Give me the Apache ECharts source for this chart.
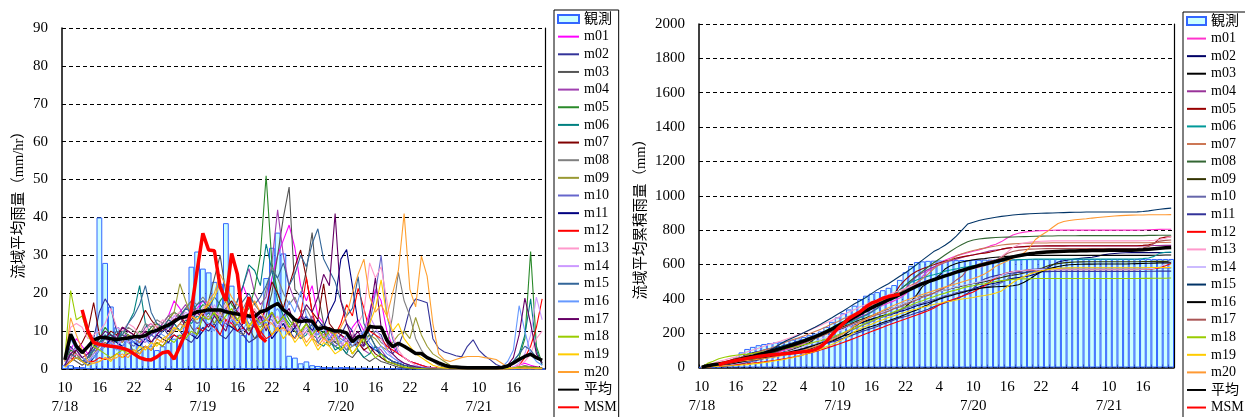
<!DOCTYPE html>
<html><head><meta charset="utf-8">
<script src="https://cdn.jsdelivr.net/npm/echarts@6/dist/echarts.min.js"></script>
<style>html,body{margin:0;padding:0;background:#fff;}#wrap{position:relative;width:1245px;height:417px;}#left{position:absolute;left:0;top:0;width:622px;height:417px;}#right{position:absolute;left:622px;top:0;width:623px;height:417px;}</style>
</head><body><div id="wrap"><div id="left"></div><div id="right"></div></div>
<script>
// ---- time axis ----
const startDay = 18, startHour = 10, nHours = 84;
const tickLabels = ['10\n7/18','16','22','4','10\n7/19','16','22','4','10\n7/20','16','22','4','10\n7/21','16'];
const memberNames = ['m01','m02','m03','m04','m05','m06','m07','m08','m09','m10','m11','m12','m13','m14','m15','m16','m17','m18','m19','m20'];

// ---- hourly basin-average rainfall (mm/hr) ----
const obsRain = [1,1,0.5,0.5,2,5,40,28,16.5,11,9,9, 8,7,6,6,5,6,7,8,9,11,27,31, 26.5,25.5,23,22.5,38.5,22,13,9,11,14,12,24, 32,36,30.5,3.5,3,1.5,2,1,0.8,0.5,0.5,0.4, 0.5,0.5,0.4,0.3,0.4,0.3,0.2,0.3,0.2,0.2,0.1,0.1, 0.1,0.1,0,0,0,0,0,0,0,0,0,0, 0,0,0,0,0,0,0,0,0,0,0,0];
const avgRain = [2.4,9.2,6,4.3,5.9,7.6,8.3,8.3,8,7.8,8,8.2, 8.5,8.5,8.8,9.8,10.2,11,11.6,12.5,13.5,13.8,14.5,15.1, 15.3,15.6,15.6,15.6,15.1,14.8,14.5,14.2,14,13.8,15.1,15.5, 16.5,17.3,15.6,14.5,13,12.5,12.8,12.6,10.5,11,10.5,10, 10,9.5,7.2,8.5,8.5,11.2,11,11,7.6,5.9,6.8,6, 5.1,4.1,4.1,3,2.3,1.6,1,0.6,0.5,0.4,0.3,0.3, 0.3,0.3,0.3,0.3,0.4,0.8,1.6,2.5,3.3,3.9,3,2.3];
const msmRain = [null,null,null,15.6,10,7,6.5,6.2,6,5.8,5.5,5, 4,3,2.5,2.4,3.2,4.3,4.6,2.6,6,9.5,15.6,26, 35.8,31.4,31.2,21.7,18,30.5,25,12,19,12,8.5,7.2];
const m01Rain = [1,5,8,6,4,5,6,7,6,8,7,9, 8,7,8,9,10,12,14,18,16,13,15,16, 18,17,15,14,13,12,15,22,18,14,12,16, 24,30,34,38,32,22,18,22,14,12,10,8, 9,7,11,13,10,15,21,18,10,6,4,3, 2,1.5,1,0.5,0.3,0.2,0.1,0,0,0,0,0, 0,0,0,0,0,0.2,0.5,1,1.5,1,0.6,0.3];
const m02Rain = [2,6,4,2,3,8,15,18.5,16,10,8,9, 7,6,8,9,10,11,9,12,10,8,7,9, 11,10,12,9,8,10,12,9,7,8,10,12, 9,11,13,10,8,12,14,10,9,11,8,7, 9,12,10,7,6,8,10,9,5,4,6,10, 16,18.5,18,17.5,8,5.5,4.5,4,3.5,3.2,6,7.7, 5,3.5,2.4,1.2,0.6,0.3,0.2,0.1,0.1,0.1,0.1,0.1];
const m03Rain = [1,3,2,1,2,4,5,6,7,8,9,8, 4,5,6,5,7,6,8,10,12,14,11,9, 14,18,24,30,20,13,10,9,11,8,9,14, 20,30,40,48,21,19,26,36,20,12,9,7, 6,4,3,5,3,2,3,2,1.5,1,0.5,0.3, 0.3,0.2,0.1,0,0,0,0,0,0,0,0,0, 0,0,0,0,0,0,0.1,0.3,0.5,0.4,0.3,0.2];
const m04Rain = [1,4,6,5,3,4,6,8,7,9,8,10, 9,8,11,12,10,12,14,13,15,17,14,16, 15,13,16,14,12,15,18,22,26.5,20,17,19, 28,42,30,22,18,15,12,14,10,9,11,8, 7,6,9,8,5,4,6,5,3,2,1.5,1, 0.8,0.5,0.3,0.2,0.1,0,0,0,0,0,0,0, 0,0,0,0,0,0.1,0.3,0.6,0.8,0.6,0.4,0.2];
const m05Rain = [2,5,4,3,2,5,8,11,9,8,10,9, 8,10,9,11,12,10,13,15,14,16,18,15, 17,16,14,18,20,17,15,14,16,21,30,51, 28,20,16,13,11,10,12,9,8,10,7,6, 5,7,4,6,8,9,6,4,3,2,1.5,1, 0.8,0.5,0.3,0.2,0.1,0.1,0,0,0,0,0,0, 0,0,0,0,0.2,0.5,1.5,3,8,31,6,1.5];
const m06Rain = [1,4,3,2,3,6,7,8,9,7,10,12, 15,22,12,9,8,10,11,12,10,13,12,14, 13,15,12,14,16,13,18,22,27.5,26,22,33, 26,18,14,12,10,8,9,12,7,6,8,5, 6,4,8,5,3,4,6,3,2,1.5,1,0.5, 0.3,0.2,0.1,0,0,0,0,0,0,0,0,0, 0,0,0,0,0.3,1,2,4,9,18.5,5,1];
const m07Rain = [1,3,5,7,10,17.5,9,8,10,9,11,10, 9,12,15.5,13,11,10,12,13,14,12,15,16, 14,17,15,13,16,18,15,14,17,15,13,16, 23,20,16,22,27,31.4,24,15,13,22.5,12,10, 9,8,6,7,5,6,4,3,2,1.5,1,0.5, 0.3,0.2,0.1,0,0,0,0,0,0,0,0,0, 0,0,0,0,0,0.1,0.3,0.5,0.8,0.6,0.5,0.3];
const m08Rain = [1,4,3,2,3,5,7,9,8,10,9,11, 10,9,12,11,13,12,14,15,13,16,18,17, 19,17,16,15,18,14,13,16,19,17,15,21, 27,24,20,17,19,15,16,13,11,12,10,9, 8,7,9,6,10,12,9,7,6,14,25.5,18, 14,8,5,3,2,1,0.5,0.3,0.2,0.1,0,0, 0,0,0,0,0,0.1,0.3,0.5,0.8,0.6,0.4,0.3];
const m09Rain = [1,3,4,2,2,4,6,7,6,8,7,9, 8,7,9,10,12,11,13,15,22.5,18,14,12, 13,14,12,15,13,11,12,14,10,12,11,13, 15,12,14,11,10,9,12,8,7,9,6,8, 7,5,6,8,7,9,8,6,5,7,9,10, 8,13.6,9,6,4,3,2,1,0.5,0.3,0.2,0.1, 0,0,0,0,0,0.1,0.3,0.5,0.6,0.4,0.3,0.2];
const m10Rain = [1,2,3,2,2,4,5,6,7,6,8,7, 6,8,7,9,8,10,11,10,12,11,13,12, 13,15,14,12,16,14,13,15,12,11,14,13, 13,10,12,9,11,8,10,12,7,9,8,6, 7,5,8,6,9,12,20,30,14,8,4,3, 2,1.5,1,0.5,0.3,0.2,0.1,0,0,0,0,0, 0,0,0,0,0,0,0.1,0.2,0.3,0.2,0.1,0.1];
const m11Rain = [1,2,3,2,1,3,5,6,8,7,6,8, 7,6,8,7,9,8,7,9,8,10,9,8, 10,12,11,13,12,11,10,12,14,11,13,12, 8,10,12,9,11,14,12,10,13,11,15,18, 29,31.5,22,12,8,6,5,4,3,2,1.5,1, 0.8,0.5,0.3,0.2,0.1,0,0,0,0,0,0,0, 0,0,0,0,0,0.1,0.2,0.4,0.5,0.4,0.2,0.1];
const m12Rain = [0.5,2,4,3,2,2,3,2.5,3,4,3,4, 5,4,6,5,7,6,8,9,8,10,9,11, 10,12,11,9,13,12,10,11,9,12,10,8, 9,11,13,10,12,14,24.2,15,10,8,11,9, 12,17,14,21.3,16,10,9,8,6,5,4,3, 2,1.5,1,0.5,0.3,0.2,0.1,0,0,0,0,0, 0,0,0,0,0,0,0.3,1,3,6,11,18.5];
const m13Rain = [2,11,12,11,8,9,10,12,16,11,10,12, 11,9,10,12,11,13,12,14,15,13,16,14, 16,18,15,14,17,13,15,12,14,16,13,11, 12,14,10,11,13,9,10,8,11,7,9,8, 7,6,9,12,15,28,24,27,18,9,5,3, 2,1,0.5,0.3,0.2,0.1,0,0,0,0,0,0, 0,0,0,0,0,0.2,0.5,1,2,4,8,10];
const m14Rain = [1,3,4,3,2,4,5,6,7,6,8,7, 8,9,7,10,9,11,12,14,13,15,14,16, 15,13,17,14,12,15,16,13,14,12,15,13, 14,11,13,10,12,9,11,10,8,9,7,8, 6,8,7,9,10,14,11,8,5,3,2,1.5, 1,0.5,0.3,0.2,0.1,0,0,0,0,0,0,0, 0,0,0,0,0,0.1,0.5,1.5,4,9,19,13];
const m15Rain = [1,4,3,2,3,5,7,9,8,10,9,12, 14,17,22,15,12,11,13,12,14,16,15,17, 18,16,19,17,15,14,16,18,20,17,19,22, 26,24,28,22,25,30,27,33,37,29,26,23, 18,14,16,24.4,12,9,6,4,3,2,1.5,1, 0.8,0.5,0.3,0.2,0.1,0,0,0,0,0,0,0, 0,0,0,0,0.2,0.5,2,4,6,5,3,2];
const m16Rain = [1,8,5,3,2,3,5,6,7,5,6,8, 7,9,8,6,10,9,8,11,10,12,9,11, 13,12,10,14,11,13,12,10,14,11,13,12, 14,16,13,18,15,20.5,14,12,9,11,8,10, 7,9,6,8,10,7,5,6,4,3,2,1.5, 1,0.8,0.5,0.3,0.2,0.1,0,0,0,0,0,0, 0,0,0,0,0.5,2,5,16.7,10,4,2,1];
const m17Rain = [1,4,5,3,4,6,8,10,9,8,11,10, 9,8,10,7,9,11,10,12,14,11,13,15, 13,11,14,12,10,15,13,11,9,12,14,10, 15,12,14,16,11,13,17,15,19,25,22,41, 18,12,8,10,6,14,24,11,7,4,2.5,1.5, 1,0.6,0.3,0.2,0.1,0,0,0,0,0,0,0, 0,0,0,0,0.2,1,3,9,18.7,12,4,1.5];
const m18Rain = [3,20.7,13,14,9,6,5,4,3,4,5,4, 5,4,6,5,7,6,8,7,9,8,10,9, 14,13,15,12,14,16,13,15,11,14,12,13, 15,12,14,11,13,10,12,9,11,8,10,9, 5,7,4,6,8,5,3,4,2,1.5,1,0.5, 0.3,0.2,0.1,0,0,0,0,0,0,0,0,0, 0,0,0,0,0,0.1,0.3,0.5,0.6,0.4,0.3,0.2];
const m19Rain = [0.5,2,3,2,1,1.5,2,3,2,4,3,5, 4,6,5,7,6,8,9,11,10,12,14,13, 15,17,19,22.6,18,14,12,15,11,13,10,12, 9,11,8,10,7,9,6,8,5,7,6,4, 5,7,4,6,9,12,16,23.5,14,10,12,8, 6,4,3,2,1,0.5,0.3,0.2,0.1,0,0,0, 0,0,0,0,0,0,0.1,0.2,0.3,0.2,0.1,0.1];
const m20Rain = [2,13.5,9,5,2,1.5,2,3,2.5,3,4,3, 5,4,6,5,8,7,9,10,12,11,14,13, 15,18,20,25,22,19,17,16,14,18,15,13, 12,10,11,9,8,10,7,9,6,8,7,9, 11,14,20,25,29,19,15,17,14,20,26,41, 21,16.4,29.8,24.5,12,4,2.4,2,2.5,3,3.3,3.3, 3.3,3,2.8,2.5,1.5,0.5,0.2,0.1,0,0,0,0];

// ---- cumulative basin-average rainfall (mm) ----
const obsCum = [2,3,4,5,7,14,58,88,108,120,130,137, 142,146,150,156,162,170,178,188,198,210,236,266, 292,316,338,360,398,418,430,439,450,464,480,510, 555,592,614,618,621,622,623,624,625,625,626,626, 627,627,628,628,629,629,630,630,630,631,631,631, 631,631,632,632,632,632,632,632,632,632,632,632, 632,632,632,632,632,632,632,632,632,632,632,632];
const avgCum = [2,10,16,21,27,34,42,50,58,66,75,84, 93,102,111,121,131,142,154,166,179,193,208,224, 241,258,276,294,312,330,347,363,378,393,408,424, 441,458,474,488,500,511,522,533,544,555,565,575, 584,593,601,609,617,626,635,644,651,657,662,666, 669,672,674,676,677,678,679,680,680,681,681,681, 682,682,682,682,683,684,686,689,692,695,697,699];
const msmCum = [null,null,null,16,27,34,41,47,53,59,64,69, 73,76,79,81,84,88,92,95,104,120,150,190, 225,255,285,305,325,352,375,387,403,413,420,427];
const m01Cum = [1,6,14,20,24,29,35,42,48,56,63,72, 80,87,95,104,114,126,140,158,174,187,202,218, 236,253,268,282,295,307,322,344,362,376,388,404, 428,458,492,530,562,584,602,624,638,650,660,668, 677,684,695,708,718,733,754,772,782,788,792,795, 797,798,799,800,800,800,800,800,800,800,800,800, 800,800,800,800,800,800,801,802,803,804,805,805];
const m02Cum = [2,8,12,14,17,25,40,59,75,85,93,102, 109,115,123,132,142,153,162,174,184,192,199,208, 219,229,241,250,258,268,280,289,296,304,314,326, 335,346,359,369,377,389,403,413,422,433,441,448, 457,469,479,486,492,500,510,519,524,528,534,544, 560,578,596,614,622,627,632,636,639,642,648,656, 661,664,667,668,669,669,669,669,669,669,670,670];
const m03Cum = [1,4,6,7,9,13,18,24,31,39,48,56, 60,65,71,76,83,89,97,107,119,133,144,153, 167,185,209,239,259,272,282,291,302,310,319,333, 353,383,423,471,492,511,537,573,593,605,614,621, 627,631,634,639,642,644,647,649,651,652,652,652, 653,653,653,653,653,653,653,653,653,653,653,653, 653,653,653,653,653,653,653,653,654,654,655,655];
const m04Cum = [1,5,11,16,19,23,29,37,44,53,61,71, 80,88,99,111,121,133,147,160,175,192,206,222, 237,250,266,280,292,307,325,347,374,394,411,430, 458,500,530,552,570,585,597,611,621,630,641,649, 656,662,671,679,684,688,694,699,702,704,705,706, 707,707,708,708,708,708,708,708,708,708,708,708, 708,708,708,708,708,708,708,709,710,710,711,711];
const m05Cum = [2,7,11,14,16,21,29,40,49,57,67,76, 84,94,103,114,126,136,149,164,178,194,212,227, 244,260,274,292,312,329,344,358,374,395,425,476, 512,540,560,575,587,598,610,619,627,637,644,650, 655,662,666,672,680,689,695,699,702,704,706,707, 707,708,708,708,708,709,709,709,709,709,709,709, 709,709,709,709,709,709,711,714,722,753,759,761];
const m06Cum = [1,5,8,10,13,19,26,34,43,50,60,72, 87,109,121,130,138,148,159,171,181,194,206,220, 233,248,260,274,290,303,321,343,371,397,419,452, 478,496,510,522,532,540,549,561,568,574,582,587, 593,597,605,610,613,617,623,626,628,629,630,631, 631,631,631,631,631,631,631,631,631,631,631,631, 631,631,631,631,631,632,634,638,647,666,671,672];
const m07Cum = [1,4,9,16,26,44,53,61,71,80,91,101, 110,122,137,150,161,171,183,196,210,222,237,253, 267,284,299,312,328,346,361,375,392,407,420,436, 459,479,495,517,544,575,599,614,627,650,662,672, 681,689,695,702,707,713,717,720,722,723,724,725, 725,725,726,726,726,726,726,726,726,726,726,726, 726,726,726,726,726,726,726,726,727,728,728,729];
const m08Cum = [1,5,8,10,13,18,25,34,42,52,61,72, 82,91,103,114,127,139,153,168,181,197,215,232, 251,268,284,299,317,331,346,364,385,406,428,452, 480,508,535,560,585,610,632,655,677,698,716,732, 742,748,752,755,757,758,759,760,761,762,763,764, 765,766,766,767,767,767,767,768,768,768,768,768, 768,768,768,768,768,768,768,769,769,770,770,770];
const m09Cum = [1,4,8,10,12,16,22,29,35,43,50,59, 67,74,83,93,105,116,129,144,167,185,199,211, 224,238,250,265,278,289,301,315,325,337,348,361, 376,388,402,413,423,432,444,452,459,468,474,482, 489,494,500,508,515,524,532,538,543,550,559,569, 577,590,599,605,609,612,614,615,616,616,616,616, 616,616,616,616,616,616,617,617,618,618,618,619];
const m10Cum = [1,3,6,8,10,14,19,25,32,38,46,53, 59,67,74,83,91,101,112,122,134,145,158,170, 183,198,212,224,240,254,267,282,294,305,319,332, 345,355,367,376,387,395,405,417,424,433,441,447, 454,459,467,473,482,494,514,544,558,566,570,573, 575,577,578,578,578,579,579,579,579,579,579,579, 579,579,579,579,579,579,579,579,579,579,580,580];
const m11Cum = [1,3,6,8,9,12,17,23,31,38,44,52, 59,65,73,80,89,97,104,113,121,131,140,148, 158,170,181,194,206,217,227,239,253,264,277,289, 297,307,319,328,339,353,365,375,388,399,414,432, 461,493,515,527,535,541,546,550,553,555,556,557, 558,558,559,559,559,559,559,559,559,559,559,559, 559,559,559,559,559,559,559,560,560,561,561,561];
const m12Cum = [0,2,6,9,11,13,16,19,22,26,29,33, 38,42,48,53,60,66,74,83,92,102,112,123, 134,146,158,170,183,196,209,222,234,247,259,271, 282,294,306,318,331,345,365,380,392,403,415,426, 440,458,476,500,522,540,552,558,562,565,567,568, 569,569,570,570,570,570,570,570,570,570,570,570, 570,570,570,570,570,570,571,572,575,581,592,606];
const m13Cum = [2,13,25,36,44,53,63,75,91,102,112,124, 135,144,154,166,177,190,202,216,231,244,260,274, 290,308,323,337,354,367,382,394,408,424,437,448, 460,474,484,495,508,517,527,535,546,553,562,570, 577,583,592,604,619,647,671,698,716,725,730,733, 735,736,737,737,737,737,737,737,737,737,737,737, 737,737,737,737,737,737,738,739,741,745,753,763];
const m14Cum = [1,4,8,11,13,17,22,28,35,41,49,56, 64,73,80,90,99,110,122,136,149,164,178,194, 209,222,239,253,265,280,296,309,323,335,350,363, 377,388,401,411,423,432,443,453,461,470,477,485, 491,499,506,515,525,539,550,558,563,566,568,570, 571,571,571,572,572,572,572,572,572,572,572,572, 572,572,572,572,572,572,572,574,578,587,606,619];
const m15Cum = [1,5,9,12,16,22,30,40,50,61,72,85, 100,118,140,157,172,187,202,218,234,252,271,290, 310,329,350,371,389,408,430,452,470,488,509,531, 552,575,600,625,650,675,692,712,735,765,800,835, 846,856,863,869,875,880,884,888,891,893,895,897, 898,899,900,901,902,903,904,904,905,905,905,905, 905,905,905,905,905,906,908,912,917,921,925,928];
const m16Cum = [1,8,13,16,18,21,26,32,38,43,49,56, 63,71,79,85,94,102,110,120,130,141,150,160, 172,183,193,206,216,228,239,249,262,272,284,295, 308,323,335,352,366,385,398,409,418,428,436,445, 452,460,465,468,470,472,474,476,482,496,515,538, 556,570,580,588,594,598,600,601,602,602,603,603, 603,603,603,603,604,605,606,607,608,609,609,610];
const m17Cum = [1,5,10,13,17,23,31,41,50,58,69,79, 88,96,106,113,122,133,143,155,169,180,193,208, 221,232,246,258,268,283,296,307,316,328,342,352, 367,379,393,409,420,433,450,465,484,509,531,572, 590,602,610,620,626,640,664,675,682,686,689,690, 691,692,692,692,692,692,692,692,692,692,692,692, 692,692,692,692,692,693,696,705,724,736,740,742];
const m18Cum = [3,24,37,51,60,66,71,75,78,82,87,91, 96,100,106,111,118,124,132,139,148,156,166,175, 189,202,217,229,243,259,272,287,298,312,324,337, 352,364,378,389,402,412,424,433,444,452,462,471, 476,483,487,493,501,506,509,513,515,516,517,518, 518,518,518,518,518,518,518,518,518,518,518,518, 518,518,518,518,518,518,519,519,520,520,520,521];
const m19Cum = [1,3,6,8,9,10,12,15,17,21,24,29, 33,39,44,51,57,65,74,85,95,107,121,134, 149,166,185,208,226,240,252,267,278,291,301,313, 322,333,341,351,358,367,373,381,386,393,399,403, 408,415,419,425,434,446,470,495,515,530,545,555, 563,569,574,577,579,580,581,581,581,581,581,581, 581,581,581,581,581,581,581,582,582,582,582,582];
const m20Cum = [2,14,22,27,30,32,35,38,41,44,48,52, 57,62,68,74,82,90,100,110,122,134,148,162, 178,196,216,240,262,282,300,316,332,348,362,376, 390,402,414,425,436,447,458,468,478,488,498,508, 518,530,545,565,590,606,620,636,650,668,700,745, 770,790,815,838,850,856,860,863,866,870,873,876, 879,882,884,886,887,888,888,889,889,889,889,890];

// ---- styling ----
const leftColors = ['#ff00ff','#333399','#555555','#a040b0','#2a8a2a','#008080','#800000','#808080','#999933','#6666cc','#000080','#ff0000','#ff99cc','#cc99ff','#336699','#6699ff','#660066','#99cc00','#ffcc00','#ffa030'];
const rightColors = ['#ff33cc','#000066','#000000','#993399','#990000','#009999','#cc7755','#336633','#333300','#6666aa','#333399','#ff0000','#ff99cc','#ccbbff','#003366','#000000','#aa5555','#99cc00','#ffcc00','#ff9933'];
const rainMembers = [m01Rain,m02Rain,m03Rain,m04Rain,m05Rain,m06Rain,m07Rain,m08Rain,m09Rain,m10Rain,m11Rain,m12Rain,m13Rain,m14Rain,m15Rain,m16Rain,m17Rain,m18Rain,m19Rain,m20Rain];
const cumMembers = [m01Cum,m02Cum,m03Cum,m04Cum,m05Cum,m06Cum,m07Cum,m08Cum,m09Cum,m10Cum,m11Cum,m12Cum,m13Cum,m14Cum,m15Cum,m16Cum,m17Cum,m18Cum,m19Cum,m20Cum];

const FONT = "'Liberation Serif','Noto Sans CJK JP',serif";
const categories = [];
for (let i = 0; i < nHours; i++) {
  const h = startHour + i;
  categories.push('7/' + (startDay + Math.floor(h / 24)) + ' ' + (h % 24) + ':00');
}
const pad = arr => arr.concat(new Array(nHours - arr.length).fill(null));

function makeOption(cfg) {
  const series = [{
    name: '観測', type: 'bar', data: cfg.obs, barCategoryGap: '0%', barGap: '0%',
    itemStyle: { color: '#ccffff', borderColor: '#3366ff', borderWidth: 1 }, z: 1
  }];
  memberNames.forEach((n, k) => series.push({
    name: n, type: 'line', data: cfg.members[k], symbol: 'none', showSymbol: false,
    lineStyle: { width: 1.1, color: cfg.colors[k] }, itemStyle: { color: cfg.colors[k] }, z: 2
  }));
  series.push({ name: '平均', type: 'line', data: cfg.avg, symbol: 'none', lineStyle: { width: 3.5, color: '#000' }, itemStyle: { color: '#000' }, z: 3 });
  series.push({ name: 'MSM', type: 'line', data: pad(cfg.msm), symbol: 'none', lineStyle: { width: 3.5, color: '#ff0000' }, itemStyle: { color: '#ff0000' }, z: 4 });
  const yLab = { color: '#000', fontFamily: FONT, fontSize: 15, margin: 14, formatter: v => String(v) };
  return {
    animation: false,
    backgroundColor: '#fff',
    grid: cfg.grid,
    legend: {
      orient: 'vertical', left: cfg.legendLeft, top: cfg.legendTop, height: 440,
      itemWidth: cfg.legendItemWidth, itemHeight: 8, itemGap: cfg.legendGap,
      padding: [1, 2, 24, 3], borderColor: '#000', borderWidth: 1, borderRadius: 0, backgroundColor: '#fff',
      textStyle: { fontFamily: FONT, fontSize: 14, color: '#000', lineHeight: 16 },
      itemStyle: { opacity: 0 },
      selectedMode: false,
      data: [{ name: '観測', icon: 'rect', itemStyle: { opacity: 1 } }].concat(memberNames, ['平均', 'MSM'])
    },
    xAxis: {
      type: 'category', data: categories, boundaryGap: true,
      axisLine: { show: true, lineStyle: { color: '#000', width: 1.5 } },
      axisTick: { show: true, inside: true, length: 3, interval: 0, alignWithLabel: false, lineStyle: { color: '#000', width: 1 } },
      axisLabel: { interval: 5, color: '#000', fontFamily: FONT, fontSize: 15, lineHeight: 19, margin: 10,
        formatter: (v, i) => tickLabels[Math.round(i / 6)] },
      splitLine: { show: false }
    },
    yAxis: [{
      type: 'value', min: 0, max: cfg.yMax, interval: cfg.yInt,
      axisLine: { show: true, lineStyle: { color: '#000', width: 1.5 } },
      axisTick: { show: false }, axisLabel: yLab,
      splitLine: { show: true, lineStyle: { color: '#000', width: 1, type: [4, 3] } },
      name: cfg.yName, nameLocation: 'middle', nameRotate: 90, nameGap: cfg.nameGap, nameMoveOverlap: false,
      nameTextStyle: { fontFamily: FONT, fontSize: 14.5, color: '#000', padding: cfg.namePad }
    }, {
      type: 'value', position: 'right', min: 0, max: cfg.yMax, interval: cfg.yInt,
      axisLine: { show: true, onZero: false, lineStyle: { color: '#000', width: 1.2 } },
      axisTick: { show: false }, axisLabel: { show: false }, splitLine: { show: false }
    }],
    series: series
  };
}

const leftChart = echarts.init(document.getElementById('left'), null, { renderer: 'canvas' });
leftChart.setOption(makeOption({
  obs: obsRain, members: rainMembers, avg: avgRain, msm: msmRain, colors: leftColors,
  grid: { left: 62, right: 77, top: 28, bottom: 48 },
  yMax: 90, yInt: 10, yName: '流域平均雨量（mm/hr）', nameGap: 36, namePad: [0, 6, 0, 0],
  legendLeft: 554, legendTop: 10, legendItemWidth: 21, legendGap: 1.65
}));
const rightChart = echarts.init(document.getElementById('right'), null, { renderer: 'canvas' });
rightChart.setOption(makeOption({
  obs: obsCum, members: cumMembers, avg: avgCum, msm: msmCum, colors: rightColors,
  grid: { left: 77, right: 71, top: 24, bottom: 49.5 },
  yMax: 2000, yInt: 200, yName: '流域平均累積雨量（mm）', nameGap: 51, namePad: [0, 40, 0, 0],
  legendLeft: 561, legendTop: 12, legendItemWidth: 19, legendGap: 1.57
}));
</script></body></html>
